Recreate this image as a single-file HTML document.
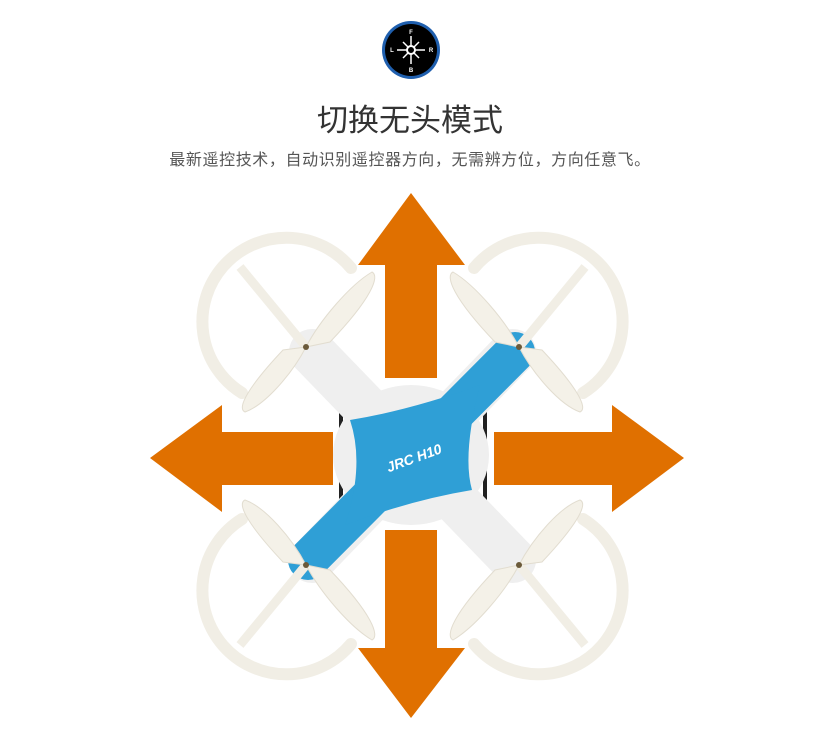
<!DOCTYPE html>
<html><head><meta charset="utf-8"><style>
html,body{margin:0;padding:0;background:#fff;width:820px;height:736px;overflow:hidden}
.t{position:absolute;left:0;width:820px;text-align:center;font-family:"Liberation Sans","Noto Sans CJK SC",sans-serif}
</style></head><body>
<svg width="820" height="736" style="position:absolute;left:0;top:0">
<defs>
<g id="q">
  <path d="M351,268 A84,84 0 1 0 242,393" fill="none" stroke="#f1eee5" stroke-width="12" stroke-linecap="round"/>
  <line x1="306" y1="347" x2="240" y2="267" stroke="#f1eee5" stroke-width="9"/>
  <path d="M306,347 C320,320 350,285 372,272 C380,276 372,298 330,342 Z" fill="#f4f1e8" stroke="#e2ddd0" stroke-width="1"/>
  <path d="M306,347 C292,374 265,405 245,412 C236,408 250,385 283,350 Z" fill="#f4f1e8" stroke="#e2ddd0" stroke-width="1"/>
  <circle cx="306" cy="347" r="3" fill="#6b5a3a"/>
</g>
</defs>
<!-- arrows -->
<g fill="#e07000">
<polygon points="411,193 465,265 437,265 437,378 385,378 385,265 358,265"/>
<polygon points="411,718 465,648 437,648 437,530 385,530 385,648 358,648"/>
<polygon points="150,458 222,405 222,432 333,432 333,485 222,485 222,512"/>
<polygon points="684,458 612,405 612,432 494,432 494,485 612,485 612,512"/>
</g>
<!-- legs -->
<line x1="341" y1="398" x2="341" y2="508" stroke="#222" stroke-width="4"/>
<line x1="485" y1="398" x2="485" y2="508" stroke="#222" stroke-width="4"/>
<!-- white body -->
<g stroke="#efefef" stroke-linecap="round">
<line x1="312" y1="352" x2="513" y2="560" stroke-width="46"/>
<line x1="513" y1="352" x2="312" y2="560" stroke-width="46"/>
</g>
<ellipse cx="411" cy="455" rx="78" ry="70" fill="#efefef"/>
<!-- blue -->
<line x1="515" y1="352" x2="308" y2="560" stroke="#2f9fd6" stroke-width="40" stroke-linecap="round"/>
<path d="M350,420 Q411,410 480,385 Q462,455 472,490 Q411,500 345,525 Q365,465 350,420 Z" fill="#2f9fd6"/>
<text x="384" y="464" font-family="Liberation Sans,sans-serif" font-style="italic" font-weight="bold" font-size="14" fill="#fff" transform="rotate(-20 410 455)">JRC H10</text>
<use href="#q"/>
<use href="#q" transform="translate(825,0) scale(-1,1)"/>
<use href="#q" transform="translate(0,912) scale(1,-1)"/>
<use href="#q" transform="translate(825,912) scale(-1,-1)"/>
<!-- compass -->
<circle cx="411" cy="50" r="29" fill="#1f5fae"/>
<circle cx="411" cy="50" r="26" fill="#000"/>
<g stroke="#fff" stroke-width="1.5">
<line x1="411" y1="36" x2="411" y2="64"/><line x1="397" y1="50" x2="425" y2="50"/>
<line x1="403" y1="42" x2="419" y2="58"/><line x1="419" y1="42" x2="403" y2="58"/>
</g>
<circle cx="411" cy="50" r="4" fill="#000" stroke="#fff" stroke-width="2"/>
<g fill="#fff" font-family="Liberation Sans,sans-serif" font-size="6" font-weight="bold" text-anchor="middle">
<text x="411" y="34">F</text><text x="411" y="72">B</text><text x="392" y="52">L</text><text x="431" y="52">R</text>
</g>
</svg>
<div class="t" style="top:95px;font-size:31px;color:#333;">切换无头模式</div>
<div class="t" style="top:146px;font-size:16px;color:#555;letter-spacing:0.6px;">最新遥控技术，自动识别遥控器方向，无需辨方位，方向任意飞。</div>
</body></html>
